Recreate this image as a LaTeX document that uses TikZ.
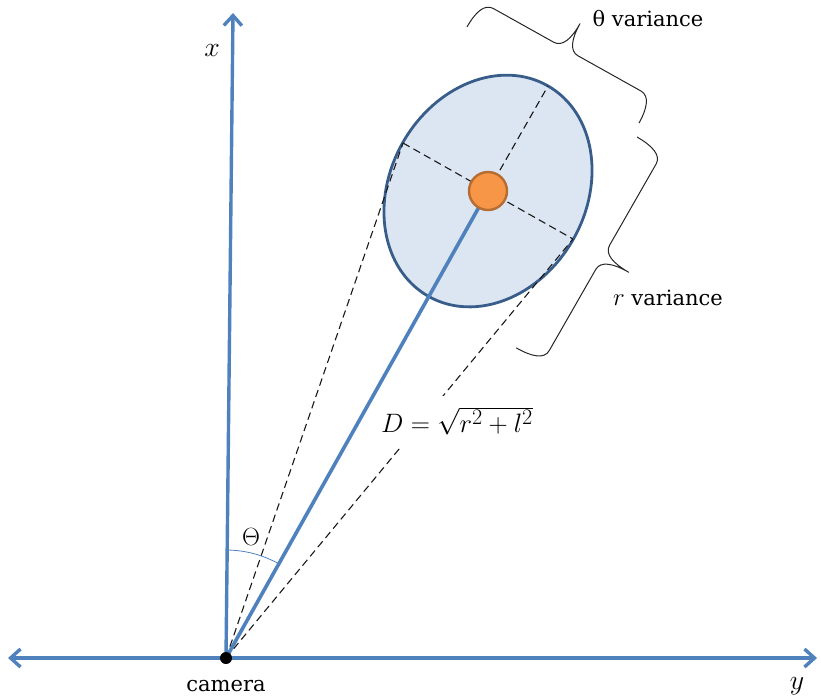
\documentclass[tikz,border=0pt]{standalone}
\usepackage{fontspec}
\newfontfamily\serifdv{DejaVu Serif}
\usetikzlibrary{arrows.meta,calc}
\definecolor{axisblue}{HTML}{4F81BD}
\definecolor{ellfill}{HTML}{DCE6F2}
\definecolor{elldraw}{HTML}{385D8A}
\definecolor{dotfill}{HTML}{F79646}
\definecolor{dotdraw}{HTML}{B66D31}
\begin{document}
\begin{tikzpicture}[x=1pt,y=-1pt,
  lbl/.style={font=\fontsize{21}{25}\selectfont\serifdv, inner sep=1pt},
  mlbl/.style={font=\fontsize{24.88}{30}\selectfont, inner sep=1pt},
  axisline/.style={line width=3.4pt, axisblue},
  tipbarb/.tip={Straight Barb[length=10pt,width=18pt,line width=3.4pt]},
  radial/.style={line width=3.6pt, axisblue},
  dashline/.style={line width=1.1pt, black!90, dash pattern=on 7.5pt off 4.5pt},
  ellstyle/.style={fill=ellfill, draw=elldraw, line width=2.8pt},
  dotstyle/.style={circle, fill=dotfill, draw=dotdraw, line width=2.4pt, minimum size=38pt, inner sep=0pt},
  bracestyle/.style={line width=1pt, black!85, line join=round},
  anglearc/.style={axisblue, line width=0.8pt}]
\useasboundingbox (0,0) rectangle (821,697);
% key points
\coordinate (O) at (226,658);
\coordinate (XT) at (233,13);
\coordinate (YL) at (8,658);
\coordinate (YR) at (817,658);
\coordinate (C) at (488,191);
\coordinate (R) at (548,86);
\coordinate (T1) at (403,143);
\coordinate (T2) at (573,239);
\coordinate (BA) at (467,27);
\coordinate (BB) at (637,137);
% ellipse
\draw[ellstyle, rotate around={60.5:(C)}] (C) ellipse [x radius=121pt, y radius=98pt];
% dashed lines
\draw[dashline] (O) -- (T1);
\draw[dashline] (O) -- (T2);
\draw[dashline] (T1) -- (T2);
\draw[dashline] (C) -- (R);
% formula (covers dashed line)
\node[mlbl, fill=white, inner xsep=2pt, inner ysep=10pt, scale=1.07] (form) at (457,421) {$D=\sqrt{r^2+l^2}$};
% radial line and dot
\draw[radial] (O) -- (C);
\node[dotstyle] (dot) at (C) {};
% axes
\draw[axisline, -tipbarb] (O) -- (XT);
\draw[axisline, tipbarb-tipbarb] (YL) -- (YR);
\node[circle, fill=black, minimum size=12pt, inner sep=0pt] (cam) at (O) {};
% angle arc
\draw[anglearc] (O) ++(89.4:108pt) arc[start angle=89.4, end angle=60.7, radius=108pt];
% braces
\begin{scope}[shift={(BA)}, rotate=-29.2, x=1pt, y=1pt]
\draw[bracestyle] (0,0) .. controls (0,17) and (4,29) .. (14,29) -- (83,29)
  .. controls (93,29) and (97,41) .. (97,58)
  .. controls (97,41) and (101,29) .. (111,29) -- (183,29)
  .. controls (193,29) and (197,17) .. (197,0);
\end{scope}
\begin{scope}[shift={(BB)}, rotate=-119.8, x=1pt, y=1pt]
\draw[bracestyle] (0,0) .. controls (0,18) and (4,30) .. (14,30) -- (107.5,30)
  .. controls (117.5,30) and (121.5,42) .. (121.5,60)
  .. controls (121.5,42) and (125.5,30) .. (135.5,30) -- (229,30)
  .. controls (239,30) and (243,18) .. (243,0);
\end{scope}
% labels
\node[mlbl, scale=1.12] (xl) at (212,50) {$x$};
\node[mlbl, scale=1.12] (yl) at (797,686) {$y$};
\node[lbl] (caml) at (226,686) {camera};
\node[mlbl] (thl) at (251,537) {$\Theta$};
\node[lbl] (tv) at (648,19) {θ variance};
\node[lbl] (rv) at (668,298) {{\fontsize{24.88}{30}\selectfont$r$} variance};
\end{tikzpicture}
\end{document}
